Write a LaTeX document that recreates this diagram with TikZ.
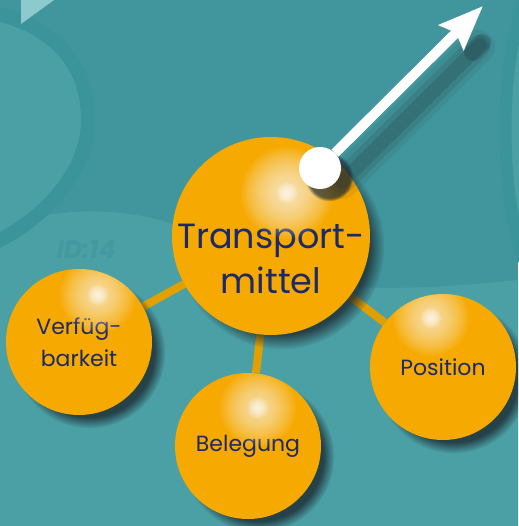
\documentclass[tikz,border=0pt]{standalone}
\usepackage{fontspec}
\setmainfont{Poppins}
\usepackage{tikz}
\usetikzlibrary{positioning, arrows.meta, shadows}

\definecolor{tealbg}{HTML}{40969C}
\definecolor{teallight}{HTML}{4AA0A5}
\definecolor{tealband}{HTML}{3B949A}
\definecolor{tealtri}{HTML}{8DCACD}
\definecolor{idc}{HTML}{43999F}
\definecolor{orbmain}{HTML}{F6A900}
\definecolor{linkc}{HTML}{E2A000}
\definecolor{navy}{HTML}{1C2A68}
\definecolor{shadowc}{HTML}{1E2B33}

\pgfdeclarelayer{bg}
\pgfdeclarelayer{links}
\pgfsetlayers{bg,links,main}

\tikzset{
x=1pt, y=-1pt, % pixel grid, y pointing down
orb state/.style={circle, fill=orbmain, inner sep=0pt, minimum size=146pt,
  text=navy, align=center, font=\fontsize{22}{32}\selectfont,
  circular drop shadow={shadow xshift=10pt, shadow yshift=-10pt, shadow scale=1.04, opacity=.8, fill=shadowc}},
big orb/.style={orb state, minimum size=198pt},
orb label/.style={text=navy, align=center, font=\fontsize{35}{45}\selectfont},
glint/.style={fill=white, opacity=.055},
link/.style={draw=linkc, line width=8pt},
white dot/.style={circle, fill=white, inner sep=0pt, minimum size=42pt,
  circular drop shadow={shadow xshift=8pt, shadow yshift=-8pt, shadow scale=1.15, opacity=.7, fill=shadowc}},
arrow line/.style={draw=white, line width=10pt, -{Stealth[length=44pt, width=34pt, inset=6pt]}},
arrow shade/.style={draw=shadowc, line cap=round},
id mark/.style={text=idc, font=\fontsize{25}{25}\selectfont\bfseries\itshape},
}

\begin{document}
\begin{tikzpicture}
\useasboundingbox (0,0) rectangle (518,526);
\clip (0,0) rectangle (518,526);

\begin{pgfonlayer}{bg}
\fill[tealbg] (0,0) rectangle (518,526);
\fill[teallight] (0,232) .. controls (40,205) and (150,200) .. (215,245) .. controls (280,300) and (420,290) .. (518,280) -- (518,526) -- (0,526) -- cycle;
\fill[teallight, draw=tealband, line width=14pt] (-10,12) .. controls (50,25) and (88,60) .. (88,120) .. controls (88,175) and (40,222) .. (-10,245) -- cycle;
\fill[teallight, draw=tealband, line width=12pt] (528,-10) .. controls (498,60) and (498,200) .. (528,270) -- cycle;
\fill[tealtri] (21,0) -- (54,0) -- (21,24) -- cycle;
\end{pgfonlayer}

\node[id mark] (id) at (86,250) {ID:14};

% spheres
\node[big orb, label={[orb label, name=tmtext, yshift=-23pt]center:Transport-\\mittel}] (1) at (271,236) {};
\node[orb state] (2) at (79,342) {Verfüg-\\barkeit};
\node[orb state] (3) at (248,446) {Belegung};
\node[orb state] (4) at (443,367) {Position};

% highlights
\foreach \n/\dx/\dy/\R/\g in {1/16/-43/99/46, 2/19/-47/73/38, 3/10/-38/73/38, 4/-12/-49/73/38}{
  \begin{scope}
    \clip (\n.center) circle (\R);
    \foreach \r in {2,4,...,\g}
      \fill[glint] ([shift={(\dx,\dy)}]\n.center) circle (\r);
    \foreach \r in {2,4,...,10}
      \fill[white, opacity=.18] ([shift={(\dx,\dy)}]\n.center) circle (\r);
  \end{scope}}

\begin{pgfonlayer}{links}
\draw[link] (1) -- (2) (1) -- (3) (1) -- (4);
\end{pgfonlayer}

% arrow out of the big sphere
\coordinate (t) at (483,6);
\begin{scope}[transform canvas={shift={(16,20)}}]
\draw[arrow shade, line width=34pt, opacity=.08] (326,162) -- (462,27);
\draw[arrow shade, line width=24pt, opacity=.12] (326,162) -- (462,27);
\draw[arrow shade, line width=14pt, opacity=.18] (326,162) -- (464,25);
\draw[arrow shade, line width=18pt, opacity=.25] (457,32) -- (466,23);
\end{scope}
\node[white dot] (d) at (320,168) {};
\draw[arrow line] (d) -- (t);

\end{tikzpicture}
\end{document}
